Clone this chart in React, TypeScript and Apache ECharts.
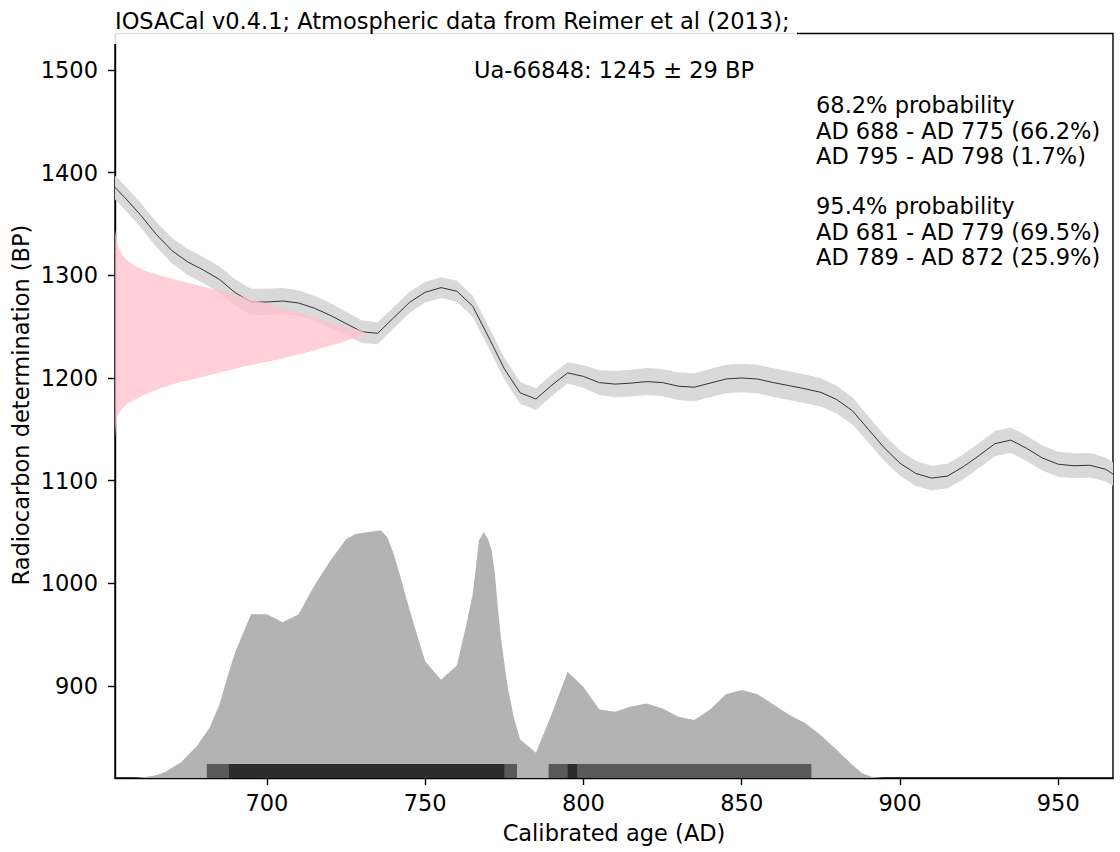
import React, { useEffect, useRef } from 'react';
import * as echarts from 'echarts';

// ---- axis extents (data units) ----
const X_MIN = 652.0;
const X_MAX = 967.3;
const Y_MIN = 810.4;
const Y_MAX = 1535.5;

const X_TICKS = [700, 750, 800, 850, 900, 950];
const Y_TICKS = [900, 1000, 1100, 1200, 1300, 1400, 1500];

// ---- calibration curve (IntCal13 excerpt, 5-yr steps) ----
const CURVE_AGE = [
  650, 655, 660, 665, 670, 675, 680, 685, 690, 695, 700, 705, 710, 715, 720, 725, 730, 735, 740, 745,
  750, 755, 760, 765, 770, 775, 780, 785, 790, 795, 800, 805, 810, 815, 820, 825, 830, 835, 840, 845,
  850, 855, 860, 865, 870, 875, 880, 885, 890, 895, 900, 905, 910, 915, 920, 925, 930, 935, 940, 945,
  950, 955, 960, 965, 970,
];
const CURVE_BP = [
  1392, 1376, 1359, 1340, 1324, 1313, 1305, 1296, 1283, 1274, 1274, 1275, 1273, 1268, 1261, 1253, 1245, 1243.5, 1258.5, 1273.5,
  1283.5, 1288, 1284.5, 1270, 1240, 1209, 1185.5, 1179.5, 1193, 1205, 1201.5, 1195.5, 1194, 1195, 1196.5, 1195.5, 1192, 1191, 1195, 1199,
  1200, 1199, 1195.5, 1192.5, 1189.5, 1186, 1179, 1168, 1150, 1132, 1117, 1107, 1102.5, 1104.5, 1113.5, 1124.5, 1136, 1139.5, 1131.5, 1122,
  1116, 1114.5, 1115, 1111, 1101,
];
const CURVE_SIGMA = [
  11.7, 11.7, 12, 12.2, 12.4, 12.6, 12.7, 12.8, 12.8, 12.8, 12.8, 12.6, 12.4, 12.2, 12, 11.5, 11, 10.7, 10.4, 10.2,
  10, 10, 10.2, 10.4, 10.5, 10.6, 10.6, 10.6, 10.5, 10.4, 11, 12, 12.7, 13, 13.2, 13.3, 13.4, 13.6, 13.7, 13.8,
  13.8, 13.9, 14, 14, 14, 13.8, 13.5, 13.2, 12.8, 12.5, 12.3, 12.1, 12, 12, 12.1, 12.2, 12.3, 12.3, 12.3, 12.2,
  12.2, 12.2, 12, 11.6, 11.2,
];

// ---- radiocarbon date distribution (pink), width in years from left edge ----
const PINK_BP = [
  1141, 1150, 1155, 1162, 1168, 1175, 1183, 1189, 1195, 1203, 1211, 1217.5, 1225.5, 1235, 1240, 1244, 1247, 1250,
  1260, 1269.5, 1279, 1287.5, 1295.5, 1300, 1305, 1310, 1315, 1320, 1328, 1335, 1344,
];
const PINK_WIDTH = [
  0, 0.2, 0.3, 0.5, 1.8, 3.7, 8.9, 13.5, 19.5, 30, 40.5, 51, 61.5, 72, 76.5, 79, 77, 72,
  61.5, 51, 40.5, 30, 19.5, 14, 9, 6, 3.7, 2.3, 1, 0.5, 0,
];

// ---- calibrated probability distribution (in y-axis units) ----
const DIST_AGE = [
  652, 658, 662, 665, 668, 673, 678, 682, 685, 688, 690, 692, 695, 700, 705, 710, 715, 720, 725, 728,
  732, 736, 738, 740, 742, 745, 748, 750, 755, 760, 763, 765, 767, 768.5, 770, 771, 772, 773, 774, 776,
  778, 780, 785, 790, 795, 800, 805, 810, 815, 820, 825, 830, 835, 840, 845, 850, 855, 860, 865, 870,
  875, 880, 885, 888, 891, 895, 968,
];
const DIST_VAL = [
  810.4, 810.5, 811.5, 813, 816.5, 826, 842, 860, 882, 914, 933, 948, 970, 970, 962, 970, 998, 1022, 1043, 1048,
  1050, 1051.5, 1045, 1029, 1008, 975, 944, 924, 906, 920, 960, 989, 1042, 1050, 1042, 1032, 1010, 975, 945, 900,
  869, 848, 835, 873, 914, 899, 877, 875, 880, 883, 878, 870, 867, 877, 892, 896, 892, 882, 872, 864,
  852, 838, 823, 815, 811.5, 810.5, 810.4,
];

// ---- HPD ranges ----
const HPD95 = [[681, 779], [789, 872]];
const HPD68 = [[688, 775], [795, 798]];
const HPD_TOP = 824;

// ---- texts ----
const TITLE = 'IOSACal v0.4.1; Atmospheric data from Reimer et al (2013);';
const DATE_LABEL = 'Ua-66848: 1245 ± 29 BP';
const RANGE_LINES = [
  '68.2% probability',
  'AD 688 - AD 775 (66.2%)',
  'AD 795 - AD 798 (1.7%)',
  '95.4% probability',
  'AD 681 - AD 779 (69.5%)',
  'AD 789 - AD 872 (25.9%)',
];
const RANGE_LINE_Y = [105, 130.5, 156, 206, 231.5, 257];
const X_NAME = 'Calibrated age (AD)';
const Y_NAME = 'Radiocarbon determination (BP)';

const FONT = 'DejaVu Sans';
const FS = 22.5;

export default function App() {
  const ref = useRef<HTMLDivElement>(null);

  useEffect(() => {
    if (!ref.current) return;
    const chart = echarts.init(ref.current, null, { renderer: 'svg' });

    const bandItem = (params: any, api: any) => {
      if (params.dataIndex !== 0) return null;
      const upper = CURVE_AGE.map((a, i) => api.coord([a, CURVE_BP[i] + CURVE_SIGMA[i]]));
      const lower = CURVE_AGE.map((a, i) => api.coord([a, CURVE_BP[i] - CURVE_SIGMA[i]])).reverse();
      return {
        type: 'polygon',
        shape: { points: upper.concat(lower) },
        style: { fill: '#d9d9d9' },
      };
    };

    const pinkItem = (params: any, api: any) => {
      if (params.dataIndex !== 0) return null;
      const pts = PINK_BP.map((b, i) => api.coord([X_MIN + PINK_WIDTH[i], b]));
      return {
        type: 'polygon',
        shape: { points: pts },
        style: { fill: 'rgba(255,192,203,0.75)' },
      };
    };

    const hpdItem = (params: any, api: any) => {
      const p1 = api.coord([api.value(0), HPD_TOP]);
      const p2 = api.coord([api.value(1), Y_MIN]);
      return {
        type: 'rect',
        shape: { x: p1[0], y: p1[1], width: p2[0] - p1[0], height: p2[1] - p1[1] },
        style: { fill: 'rgba(0,0,0,0.5)' },
      };
    };

    const textBase = { fontFamily: FONT, fontSize: FS, fill: '#000' };
    const plain = (v: number) => String(v);

    const option: any = {
      animation: false,
      backgroundColor: '#fff',
      textStyle: { fontFamily: FONT },
      grid: {
        left: 115,
        top: 33.5,
        right: 7,
        bottom: 74,
        show: true,
        borderColor: '#000',
        borderWidth: 1.4,
        backgroundColor: 'transparent',
      },
      xAxis: {
        type: 'value',
        min: X_MIN,
        max: X_MAX,
        axisLine: { show: true, lineStyle: { color: '#000', width: 1.4 } },
        axisTick: { show: true, length: 7, lineStyle: { color: '#000', width: 1.4 }, customValues: X_TICKS },
        axisLabel: {
          customValues: X_TICKS,
          formatter: plain,
          color: '#000',
          fontFamily: FONT,
          fontSize: FS,
          margin: 25,
          verticalAlign: 'middle',
        },
        splitLine: { show: false },
      },
      yAxis: {
        type: 'value',
        min: Y_MIN,
        max: Y_MAX,
        axisLine: { show: true, lineStyle: { color: '#000', width: 1.4 } },
        axisTick: { show: true, length: 7, lineStyle: { color: '#000', width: 1.4 }, customValues: Y_TICKS },
        axisLabel: {
          customValues: Y_TICKS,
          formatter: plain,
          color: '#000',
          fontFamily: FONT,
          fontSize: FS,
          margin: 17,
        },
        splitLine: { show: false },
      },
      series: [
        {
          type: 'line',
          name: 'calibrated',
          data: DIST_AGE.map((a, i) => [a, DIST_VAL[i]]),
          showSymbol: false,
          symbol: 'none',
          lineStyle: { width: 0, color: '#b3b3b3' },
          areaStyle: { color: '#b3b3b3', opacity: 1, origin: 'start' },
          z: 1,
          silent: true,
        },
        {
          type: 'custom',
          name: 'hpd95',
          data: HPD95.map((r) => [r[0], r[1], Y_MIN]),
          encode: { x: [0, 1], y: 2 },
          renderItem: hpdItem,
          z: 4,
          silent: true,
        },
        {
          type: 'custom',
          name: 'hpd68',
          data: HPD68.map((r) => [r[0], r[1], Y_MIN]),
          encode: { x: [0, 1], y: 2 },
          renderItem: hpdItem,
          z: 5,
          silent: true,
        },
        {
          type: 'custom',
          name: 'band',
          data: [[700, 1274]],
          renderItem: bandItem,
          clip: true,
          z: 2,
          silent: true,
        },
        {
          type: 'line',
          name: 'curve',
          data: CURVE_AGE.map((a, i) => [a, CURVE_BP[i]]),
          showSymbol: false,
          symbol: 'none',
          lineStyle: { width: 1, color: '#333' },
          clip: true,
          z: 3,
          silent: true,
        },
        {
          type: 'custom',
          name: 'date',
          data: [[700, 1244]],
          renderItem: pinkItem,
          clip: true,
          z: 6,
          silent: true,
        },
      ],
      graphic: [
        {
          type: 'rect',
          z: 100,
          shape: { x: 107, y: 0, width: 690, height: 44 },
          style: { fill: 'rgba(255,255,255,0.88)' },
          silent: true,
        },
        {
          type: 'text',
          z: 101,
          x: 115,
          y: 21,
          style: { ...textBase, text: TITLE, align: 'left', verticalAlign: 'middle' },
        },
        {
          type: 'text',
          z: 101,
          x: 614,
          y: 70,
          style: { ...textBase, text: DATE_LABEL, align: 'center', verticalAlign: 'middle' },
        },
        ...RANGE_LINES.map((t, i) => ({
          type: 'text',
          z: 101,
          x: 816,
          y: RANGE_LINE_Y[i],
          style: { ...textBase, text: t, align: 'left', verticalAlign: 'middle' },
        })),
        {
          type: 'text',
          z: 101,
          x: 614,
          y: 833,
          style: { ...textBase, text: X_NAME, align: 'center', verticalAlign: 'middle' },
        },
        {
          type: 'text',
          z: 101,
          x: 21,
          y: 405,
          rotation: Math.PI / 2,
          style: { ...textBase, text: Y_NAME, align: 'center', verticalAlign: 'middle' },
        },
      ],
    };

    chart.setOption(option);
    return () => chart.dispose();
  }, []);

  return (
    <div
      ref={ref}
      style={{ position: 'fixed', left: 0, top: 0, width: 1120, height: 852, background: '#fff' }}
    />
  );
}
